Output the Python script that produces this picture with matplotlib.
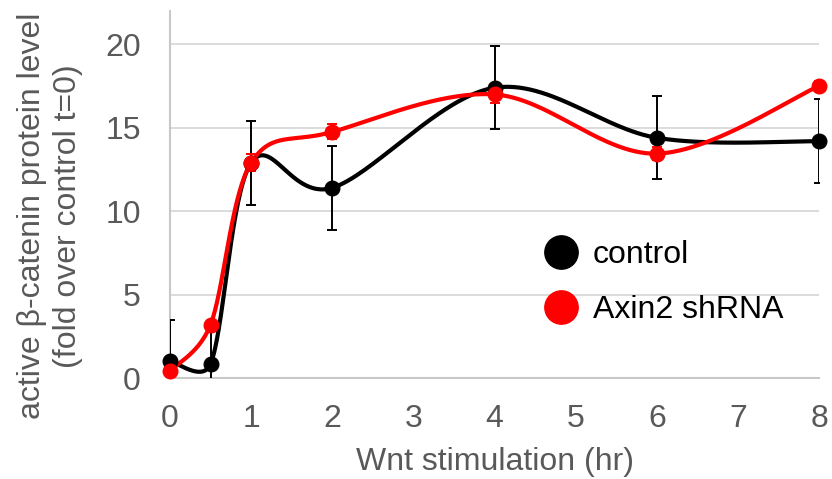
import numpy as np
import matplotlib
matplotlib.use("Agg")
import matplotlib.pyplot as plt
from matplotlib.lines import Line2D

plt.rcParams['font.family'] = ['Liberation Sans', 'DejaVu Sans']

# data
hours = [0, 0.5, 1, 2, 4, 6, 8]
control = [1.0, 0.84, 12.9, 11.4, 17.4, 14.4, 14.2]
control_err = [2.5, 2.5, 2.5, 2.5, 2.5, 2.5, 2.5]
axin2 = [0.42, 3.2, 12.9, 14.75, 17.0, 13.45, 17.5]
axin2_err = [0.2, 0.2, 0.5, 0.45, 0.5, 0.4, 0.3]

W, H = 832, 479
fig = plt.figure(figsize=(W / 100, H / 100), dpi=100)
ax = fig.add_axes([170 / W, 101 / H, 649 / W, 367 / H])
XMAX, YMAX = 8, 22
sx, sy = 649 / XMAX, 367 / YMAX   # px per data unit, used for excel-like smoothing


def smooth(x, y, n=60):
    # excel style smoothed line: bezier with catmull-rom tangents, capped at half segment
    p = np.column_stack([np.asarray(x, float) * sx, np.asarray(y, float) * sy])
    k = len(p)
    out = [p[0]]
    for i in range(k - 1):
        p0, p1, p2, p3 = p[max(i - 1, 0)], p[i], p[i + 1], p[min(i + 2, k - 1)]
        seg = np.linalg.norm(p2 - p1)
        t1 = (p2 - p0) / 6
        t2 = (p3 - p1) / 6
        if np.linalg.norm(t1) > seg / 2:
            t1 = t1 * (seg / 2) / np.linalg.norm(t1)
        if np.linalg.norm(t2) > seg / 2:
            t2 = t2 * (seg / 2) / np.linalg.norm(t2)
        c1, c2 = p1 + t1, p2 - t2
        t = np.linspace(0, 1, n)[1:, None]
        b = (1 - t) ** 3 * p1 + 3 * (1 - t) ** 2 * t * c1 + 3 * (1 - t) * t ** 2 * c2 + t ** 3 * p2
        out.extend(b)
    out = np.array(out)
    return out[:, 0] / sx, out[:, 1] / sy


for ys, err, col in [(control, control_err, 'black'), (axin2, axin2_err, 'red')]:
    ax.errorbar(hours, ys, yerr=err, fmt='none', ecolor=col, elinewidth=1.4,
                capsize=3.5, capthick=1.4, zorder=3)
    xs, yy = smooth(hours, ys)
    ax.plot(xs, yy, color=col, lw=3, solid_capstyle='round', zorder=3)
    ax.plot(hours, ys, 'o', color=col, ms=10.5, clip_on=False, zorder=4)

ax.set_xlim(0, XMAX)
ax.set_ylim(0, YMAX)
ax.set_xticks(range(0, 9))
ax.set_yticks(range(0, 21, 5))
ax.grid(axis='y', color='#d9d9d9', lw=1.3)
ax.set_axisbelow(True)
for s in ['top', 'right']:
    ax.spines[s].set_visible(False)
for s in ['left', 'bottom']:
    ax.spines[s].set_color('#c8c8c8')
    ax.spines[s].set_linewidth(1.5)
ax.tick_params(length=0, labelsize=23, labelcolor='#595959')
ax.tick_params(axis='x', pad=19)
ax.tick_params(axis='y', pad=21)

ax.set_xlabel('Wnt stimulation (hr)', fontsize=23, color='#595959', labelpad=9)
ax.set_ylabel('active β-catenin protein level\n(fold over control t=0)',
              fontsize=23, color='#595959', linespacing=1.25)
ax.yaxis.set_label_coords(-0.134, 0.441)

handles = [Line2D([], [], ls='none', marker='o', color='black', ms=24),
           Line2D([], [], ls='none', marker='o', color='red', ms=24)]
ax.legend(handles, ['control', 'Axin2 shRNA'], loc='upper left',
          bbox_to_anchor=(0.578, 0.375), frameon=False, fontsize=23,
          handlelength=1.0, handletextpad=0.5, labelspacing=0.78,
          borderpad=0, borderaxespad=0)

fig.savefig('out.png', dpi=100)
